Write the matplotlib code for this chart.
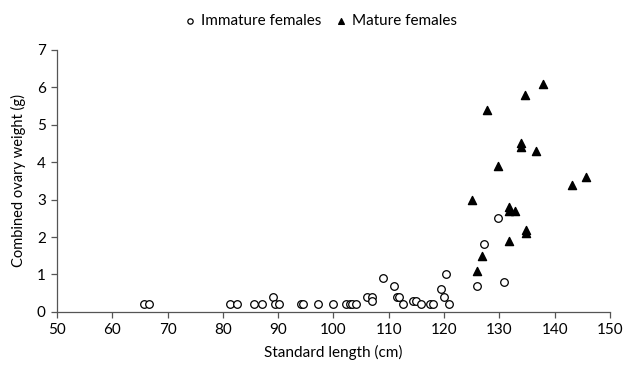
import matplotlib
matplotlib.use("Agg")
import matplotlib.pyplot as plt

plt.rcParams['font.family'] = ['Lato', 'DejaVu Sans']

# immature females: standard length (cm) and ovary weight (g)
imm_len = [65.8, 66.7, 81.3, 82.6, 85.6, 87.1, 89.1, 89.5, 90.1, 94.1, 94.5,
           97.2, 100.0, 102.2, 102.9, 103.4, 104.0, 106.1, 106.9, 106.9,
           108.9, 111.0, 111.4, 111.9, 112.5, 114.4, 114.9, 115.9, 117.4,
           118.0, 119.4, 120.0, 120.3, 120.9, 125.9, 127.3, 129.8, 130.9]
imm_wt = [0.2, 0.2, 0.2, 0.2, 0.2, 0.2, 0.4, 0.2, 0.2, 0.2, 0.2,
          0.2, 0.2, 0.2, 0.2, 0.2, 0.2, 0.4, 0.4, 0.3,
          0.9, 0.7, 0.4, 0.4, 0.2, 0.3, 0.3, 0.2, 0.2,
          0.2, 0.6, 0.4, 1.0, 0.2, 0.7, 1.8, 2.5, 0.8]

# mature females
mat_len = [125.0, 125.9, 126.9, 127.7, 129.8, 131.7, 131.7, 131.7, 132.8,
           133.9, 133.9, 134.7, 134.8, 134.8, 136.7, 137.8, 143.2, 145.7]
mat_wt = [3.0, 1.1, 1.5, 5.4, 3.9, 2.8, 2.7, 1.9, 2.7,
          4.5, 4.4, 5.8, 2.2, 2.1, 4.3, 6.1, 3.4, 3.6]

fig = plt.figure(figsize=(6.24, 3.73), dpi=100)
ax = fig.add_axes([0.0913, 0.164, 0.8863, 0.702])

ax.scatter(imm_len, imm_wt, marker='o', s=30, facecolors='white',
           edgecolors='black', linewidths=0.9, label='Immature females', zorder=3)
ax.scatter(mat_len, mat_wt, marker='^', s=34, color='black',
           label='Mature females', zorder=3)

ax.set_xlim(50, 150)
ax.set_ylim(0, 7)
ax.set_xticks(range(50, 151, 10))
ax.set_yticks(range(0, 8))

for s in ['top', 'right']:
    ax.spines[s].set_visible(False)
for s in ['left', 'bottom']:
    ax.spines[s].set_color('#555555')
    ax.spines[s].set_linewidth(0.9)
ax.tick_params(direction='out', length=4, width=0.9, color='#555555',
               labelsize=11, pad=4)

ax.set_xlabel('Standard length (cm)', fontsize=11, labelpad=6)
ax.set_ylabel('Combined ovary weight (g)', fontsize=10.5, labelpad=8)

fig.legend(loc='upper center', bbox_to_anchor=(0.51, 1.0), ncol=2, frameon=False,
           fontsize=11, handletextpad=0.0, handlelength=1.4, columnspacing=0.6,
           markerscale=0.7)

fig.savefig('out.png', dpi=100)
